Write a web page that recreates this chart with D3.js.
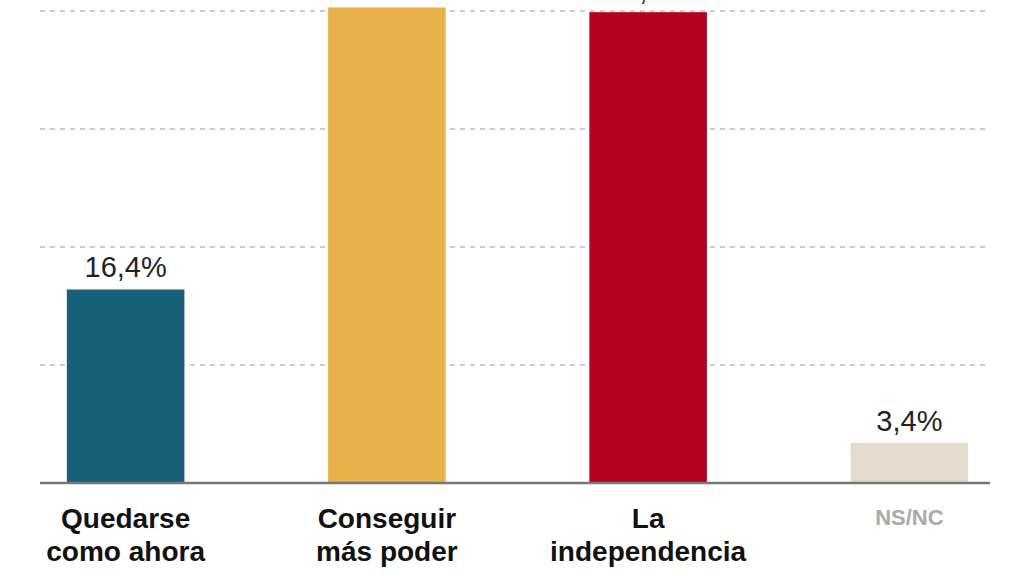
<!DOCTYPE html>
<meta charset="utf-8">
<style>
body { margin: 0; background: #fff; }
svg { font-family: "Liberation Sans Narrow", "Liberation Sans", Arial, sans-serif; font-weight: bold; }
.grid line { stroke: #999; stroke-dasharray: 5 5; stroke-width: 1.2; }
.base { stroke: #777; stroke-width: 2.5; }
</style>
<body>
<script src="https://cdn.jsdelivr.net/npm/d3@7"></script>
<script>
var categories = [["Quedarse", "como ahora"], ["Conseguir", "más poder"], ["La", "independencia"], ["NS/NC"]];
var values = [16.4, 40.3, 39.9, 3.4];
var colors = ["#17607a", "#e8b04a", "#b5001f", "#e3dccb"];
var labelColors = ["#111", "#111", "#111", "#aaa"];
var gridTicks = [10, 20, 30, 40];

var width = 1024, height = 576;
var svg = d3.select("body").append("svg").attr("width", width).attr("height", height);

var x = d3.scaleBand().domain(d3.range(values.length)).range([-5, 1040]).paddingInner(0.55).paddingOuter(0.275);
var y = d3.scaleLinear().domain([0, 40]).range([483, 11]);

svg.append("g").attr("class", "grid").selectAll("line")
  .data(gridTicks).enter().append("line")
  .attr("x1", 40).attr("x2", 990)
  .attr("y1", function(d){ return y(d); }).attr("y2", function(d){ return y(d); });

svg.selectAll(".bar").data(values).enter().append("rect")
  .attr("class", "bar")
  .attr("x", function(d, i){ return x(i); })
  .attr("width", x.bandwidth())
  .attr("y", function(d){ return y(d); })
  .attr("height", function(d){ return y(0) - y(d); })
  .attr("fill", function(d, i){ return colors[i]; });

svg.append("line").attr("class", "base").attr("x1", 40).attr("x2", 990).attr("y1", y(0)).attr("y2", y(0));

svg.selectAll(".val").data(values).enter().append("text")
  .attr("text-anchor", "middle")
  .attr("x", function(d, i){ return x(i) + x.bandwidth() / 2; })
  .attr("y", function(d){ return y(d) - 12; })
  .attr("font-size", 29).attr("fill", "#222").attr("font-weight", "normal")
  .style("font-family", "'Liberation Sans', Arial, sans-serif")
  .text(function(d){ return String(d).replace(".", ",") + "%"; });

categories.forEach(function(lines, i){
  var t = svg.append("text").attr("text-anchor", "middle")
    .attr("x", x(i) + x.bandwidth() / 2).attr("y", i == 3 ? 525 : 528)
    .attr("font-size", i == 3 ? 22 : 28).attr("fill", labelColors[i]);
  lines.forEach(function(l, j){
    t.append("tspan").attr("x", x(i) + x.bandwidth() / 2).attr("dy", j ? 33 : 0).text(l);
  });
});
</script>
